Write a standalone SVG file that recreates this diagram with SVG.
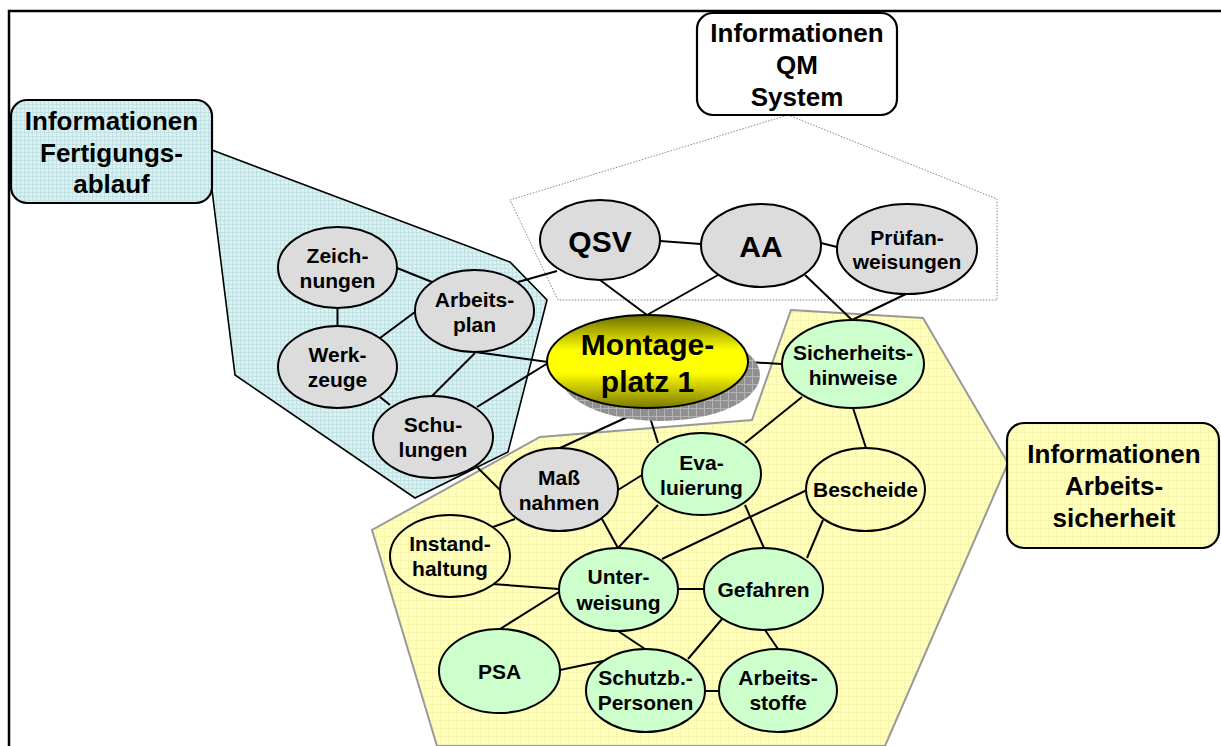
<svg xmlns="http://www.w3.org/2000/svg" width="1221" height="746" viewBox="0 0 1221 746">
<defs>
<pattern id="pBlue" width="4" height="4" patternUnits="userSpaceOnUse">
<rect width="4" height="4" fill="#dcf0f2"/>
<path d="M0 0.5H4M0.5 0V4" stroke="#bddee1" stroke-width="0.8"/>
</pattern>
<pattern id="pYellow" width="8" height="8" patternUnits="userSpaceOnUse">
<rect width="8" height="8" fill="#ffffb9"/>
<path d="M0 0.5H8M0.5 0V8" stroke="#f6f4ad" stroke-width="1"/>
</pattern>
<pattern id="pShadow" width="8" height="8" patternUnits="userSpaceOnUse">
<rect width="8" height="8" fill="#909090"/>
<path d="M0 0.5H8M0.5 0V8" stroke="#b4b4b4" stroke-width="1"/>
</pattern>
<linearGradient id="gMont" x1="0" y1="0" x2="0" y2="1">
<stop offset="0" stop-color="#6e6e00"/>
<stop offset="0.38" stop-color="#ffff00"/>
<stop offset="0.62" stop-color="#ffff00"/>
<stop offset="1" stop-color="#7a7a00"/>
</linearGradient>
<style>
text{font-family:"Liberation Sans",Arial,sans-serif;font-weight:bold;fill:#000;text-anchor:middle}
.n{font-size:21px}
.big{font-size:30px}
.box{font-size:26px}
.node{stroke:#000;stroke-width:2}
.gray{fill:#dcdcdc}
.green{fill:#ccffcc}
.yel{fill:url(#pYellow)}
#connectors line{stroke:#000;stroke-width:2}
</style>
</defs>
<rect width="1221" height="746" fill="#fff"/>
<path d="M9 746V11H1221" fill="none" stroke="#000" stroke-width="2.5"/>

<!-- areas -->
<polygon id="area-fertigung" points="212,150 510,262 547,300 508,452 415,498 235,375 212,190" fill="url(#pBlue)" stroke="#000" stroke-width="1.6"/>
<polygon id="area-qm" points="788,115 997,199 997,300 558,300 510,200" fill="none" stroke="#888" stroke-width="1" stroke-dasharray="1.5,1.5"/>
<polygon id="area-arbeitssicherheit" points="791,310 923,318 1008,463 885,746 437,746 372,530 540,437 752,420" fill="url(#pYellow)" stroke="#999" stroke-width="2"/>

<g id="box-fertigung">
<rect x="11" y="100" width="201" height="103" rx="16" fill="url(#pBlue)" stroke="#000" stroke-width="2.2"/>
<text class="box" x="111.5" y="130">Informationen</text>
<text class="box" x="111.5" y="162">Fertigungs-</text>
<text class="box" x="111.5" y="193">ablauf</text>
</g>
<g id="box-qm">
<rect x="697" y="13" width="200" height="102" rx="16" fill="#fff" stroke="#000" stroke-width="2.2"/>
<text class="box" x="797" y="42">Informationen</text>
<text class="box" x="797" y="74">QM</text>
<text class="box" x="797" y="106">System</text>
</g>
<g id="box-arbeitssicherheit">
<rect x="1007" y="423" width="212" height="125" rx="17" fill="url(#pYellow)" stroke="#000" stroke-width="2.2"/>
<text class="box" x="1114" y="463">Informationen</text>
<text class="box" x="1114" y="495">Arbeits-</text>
<text class="box" x="1114" y="527">sicherheit</text>
</g>

<g id="connectors">
<line x1="397" y1="268" x2="432" y2="282"/>
<line x1="337.5" y1="308" x2="337.5" y2="326"/>
<line x1="380" y1="338" x2="415" y2="312"/>
<line x1="380" y1="397" x2="390" y2="405"/>
<line x1="475" y1="353" x2="432" y2="396"/>
<line x1="475" y1="352" x2="548" y2="362"/>
<line x1="477" y1="407" x2="548" y2="363"/>
<line x1="518" y1="282" x2="557" y2="271"/>
<line x1="660" y1="241" x2="701" y2="244"/>
<line x1="821" y1="243" x2="837" y2="247"/>
<line x1="600" y1="280" x2="647" y2="315"/>
<line x1="718" y1="275" x2="647" y2="315"/>
<line x1="805" y1="275" x2="852" y2="320"/>
<line x1="908" y1="293" x2="852" y2="320"/>
<line x1="748" y1="362" x2="782" y2="364"/>
<line x1="647" y1="408" x2="560" y2="448"/>
<line x1="647" y1="408" x2="658" y2="443"/>
<line x1="475" y1="465" x2="500" y2="490"/>
<line x1="618" y1="490" x2="642" y2="475"/>
<line x1="515" y1="519" x2="493" y2="527"/>
<line x1="602" y1="519" x2="618" y2="548"/>
<line x1="658" y1="505" x2="618" y2="548"/>
<line x1="745" y1="443" x2="802" y2="397"/>
<line x1="745" y1="505" x2="764" y2="548"/>
<line x1="662" y1="559" x2="807" y2="490"/>
<line x1="853" y1="408" x2="866" y2="448"/>
<line x1="823" y1="520" x2="807" y2="558"/>
<line x1="492" y1="584" x2="559" y2="589"/>
<line x1="678" y1="589" x2="704" y2="589"/>
<line x1="559" y1="592" x2="500" y2="629"/>
<line x1="618" y1="631" x2="645" y2="649"/>
<line x1="722" y1="619" x2="688" y2="659"/>
<line x1="765" y1="630" x2="778" y2="649"/>
<line x1="560" y1="670" x2="603" y2="661"/>
<line x1="705" y1="691" x2="719" y2="691"/>
</g>

<g id="node-zeichnungen">
<ellipse class="node gray" cx="337.5" cy="267.5" rx="59.5" ry="40.5"/>
<text class="n" x="337.5" y="263">Zeich-</text>
<text class="n" x="337.5" y="288">nungen</text>
</g>
<g id="node-arbeitsplan">
<ellipse class="node gray" cx="474.5" cy="311" rx="59.5" ry="41"/>
<text class="n" x="474.5" y="307">Arbeits-</text>
<text class="n" x="474.5" y="332">plan</text>
</g>
<g id="node-werkzeuge">
<ellipse class="node gray" cx="337.5" cy="367" rx="59.5" ry="41"/>
<text class="n" x="337.5" y="362">Werk-</text>
<text class="n" x="337.5" y="387">zeuge</text>
</g>
<g id="node-schulungen">
<ellipse class="node gray" cx="433" cy="437" rx="60" ry="41"/>
<text class="n" x="433" y="432">Schu-</text>
<text class="n" x="433" y="457">lungen</text>
</g>
<g id="node-qsv">
<ellipse class="node gray" cx="600" cy="240" rx="60" ry="40"/>
<text class="big" x="600" y="252">QSV</text>
</g>
<g id="node-aa">
<ellipse class="node gray" cx="761" cy="245.5" rx="60" ry="41.5"/>
<text class="big" x="761" y="257">AA</text>
</g>
<g id="node-pruefanweisungen">
<ellipse class="node gray" cx="907" cy="249" rx="70" ry="45"/>
<text class="n" x="907" y="245">Prüfan-</text>
<text class="n" x="907" y="269">weisungen</text>
</g>
<g id="node-montageplatz">
<ellipse cx="660" cy="375" rx="100" ry="46" fill="url(#pShadow)"/>
<ellipse class="node" cx="647.5" cy="361.5" rx="100.5" ry="46.5" fill="url(#gMont)"/>
<text class="big" x="647.5" y="355">Montage-</text>
<text class="big" x="647.5" y="392">platz 1</text>
</g>
<g id="node-sicherheitshinweise">
<ellipse class="node green" cx="853" cy="364" rx="71" ry="44"/>
<text class="n" x="853" y="360">Sicherheits-</text>
<text class="n" x="853" y="385">hinweise</text>
</g>
<g id="node-bescheide">
<ellipse class="node yel" cx="865.5" cy="489.5" rx="59.5" ry="41.5"/>
<text class="n" x="865.5" y="497">Bescheide</text>
</g>
<g id="node-evaluierung">
<ellipse class="node green" cx="701.5" cy="474" rx="59.5" ry="41"/>
<text class="n" x="701.5" y="470">Eva-</text>
<text class="n" x="701.5" y="495">luierung</text>
</g>
<g id="node-massnahmen">
<ellipse class="node gray" cx="559" cy="489.5" rx="59" ry="41.5"/>
<text class="n" x="559" y="485">Maß</text>
<text class="n" x="559" y="510">nahmen</text>
</g>
<g id="node-instandhaltung">
<ellipse class="node yel" cx="450" cy="556" rx="60" ry="41"/>
<text class="n" x="450" y="551">Instand-</text>
<text class="n" x="450" y="576">haltung</text>
</g>
<g id="node-unterweisung">
<ellipse class="node green" cx="618.5" cy="589.5" rx="59.5" ry="41.5"/>
<text class="n" x="618.5" y="584">Unter-</text>
<text class="n" x="618.5" y="610">weisung</text>
</g>
<g id="node-gefahren">
<ellipse class="node green" cx="763.5" cy="589" rx="59.5" ry="41"/>
<text class="n" x="763.5" y="597">Gefahren</text>
</g>
<g id="node-psa">
<ellipse class="node green" cx="499.5" cy="671" rx="60.5" ry="42"/>
<text class="n" x="499.5" y="678.5">PSA</text>
</g>
<g id="node-schutzbpersonen">
<ellipse class="node green" cx="645.5" cy="690.5" rx="59.5" ry="41.5"/>
<text class="n" x="645.5" y="685">Schutzb.-</text>
<text class="n" x="645.5" y="710">Personen</text>
</g>
<g id="node-arbeitsstoffe">
<ellipse class="node green" cx="778" cy="690.5" rx="59" ry="41.5"/>
<text class="n" x="778" y="685">Arbeits-</text>
<text class="n" x="778" y="710">stoffe</text>
</g>
</svg>
